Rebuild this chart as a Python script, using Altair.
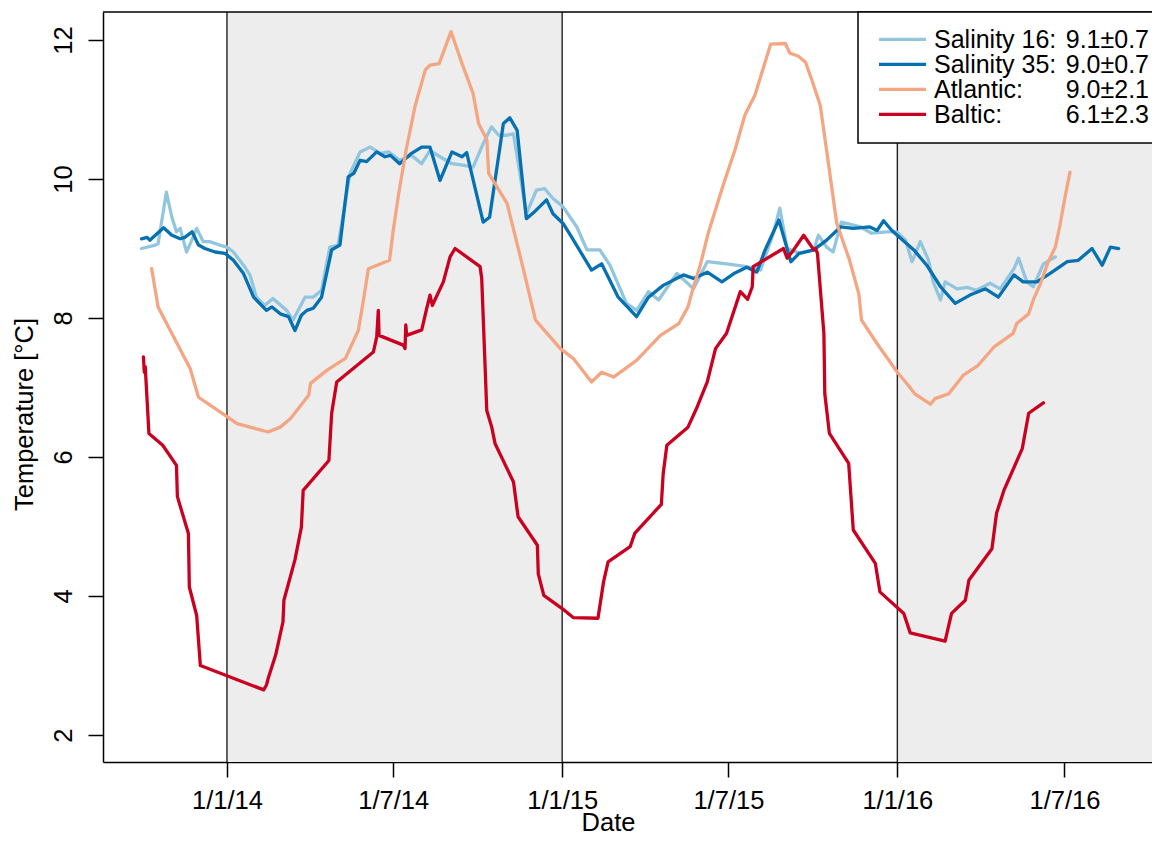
import altair as alt
import pandas as pd

BASE = pd.Timestamp("2014-01-01")

# ---- data: day offsets from 1 Jan 2014, temperatures in °C ----
s16_day = [-93, -78, -75, -66, -60, -55, -51, -44, -40, -33,
           -26, -19, -8, 0, 7, 18, 25, 32, 41, 50,
           65, 72, 85, 94, 103, 112, 121, 134, 145, 156,
           167, 176, 188, 201, 212, 221, 232, 245, 257, 268,
           279, 288, 296, 305, 312, 326, 337, 346, 355, 366,
           381, 392, 406, 417, 435, 446, 459, 470, 490, 508,
           523, 544, 566, 581, 595, 602, 610, 624, 639, 644,
           653, 660, 669, 690, 702, 719, 729, 739, 746, 755,
           764, 769, 777, 782, 795, 806, 816, 831, 842, 857,
           862, 871, 878, 889, 902]
s16_temp = [9.00, 9.05, 9.07, 9.81, 9.45, 9.24, 9.29, 8.95, 9.07, 9.29,
            9.10, 9.10, 9.05, 9.02, 8.95, 8.76, 8.62, 8.30, 8.18, 8.28,
            8.11, 7.97, 8.30, 8.30, 8.40, 9.02, 9.05, 10.08, 10.39, 10.46,
            10.37, 10.39, 10.27, 10.34, 10.22, 10.41, 10.32, 10.22, 10.20, 10.17,
            10.51, 10.75, 10.63, 10.63, 10.65, 9.50, 9.84, 9.86, 9.72, 9.60,
            9.31, 8.98, 8.98, 8.76, 8.21, 8.11, 8.38, 8.26, 8.64, 8.42,
            8.81, 8.78, 8.74, 8.69, 9.22, 9.58, 9.00, 8.93, 8.98, 9.19,
            9.02, 8.95, 9.38, 9.31, 9.22, 9.24, 9.24, 9.12, 8.81, 9.10,
            8.83, 8.52, 8.26, 8.52, 8.42, 8.44, 8.40, 8.50, 8.42, 8.71,
            8.86, 8.52, 8.45, 8.78, 8.88]

s35_day = [-93, -87, -84, -78, -69, -60, -51, -46, -38, -31,
           -24, -13, -2, 7, 18, 29, 43, 49, 58, 67,
           74, 81, 87, 94, 103, 114, 123, 132, 138, 145,
           152, 163, 172, 178, 188, 201, 212, 221, 232, 245,
           256, 261, 279, 286, 301, 308, 316, 326, 335, 348,
           355, 366, 375, 397, 408, 426, 446, 459, 475, 497,
           508, 523, 539, 552, 566, 577, 586, 601, 614, 623,
           639, 653, 668, 682, 700, 708, 715, 724, 748, 762,
           777, 793, 809, 826, 840, 857, 867, 882, 896, 915,
           927, 942, 953, 962, 971]
s35_temp = [9.14, 9.16, 9.12, 9.19, 9.30, 9.19, 9.14, 9.16, 9.24, 9.05,
            9.00, 8.95, 8.93, 8.83, 8.64, 8.30, 8.11, 8.16, 8.06, 8.02,
            7.82, 8.04, 8.11, 8.14, 8.30, 8.98, 9.05, 10.03, 10.08, 10.27,
            10.25, 10.39, 10.32, 10.34, 10.22, 10.37, 10.46, 10.46, 9.98, 10.39,
            10.32, 10.38, 9.38, 9.45, 10.80, 10.88, 10.70, 9.43, 9.53, 9.70,
            9.50, 9.36, 9.17, 8.69, 8.78, 8.30, 8.02, 8.30, 8.47, 8.62,
            8.57, 8.66, 8.52, 8.64, 8.73, 8.66, 8.98, 9.41, 8.81, 8.93,
            8.98, 9.12, 9.31, 9.29, 9.31, 9.26, 9.40, 9.26, 8.98, 8.76,
            8.45, 8.21, 8.33, 8.42, 8.30, 8.62, 8.52, 8.52, 8.64, 8.81,
            8.83, 9.00, 8.76, 9.02, 9.00]

atl_day = [-82, -75, -40, -31, 0, 11, 45, 58, 69, 89,
           91, 109, 129, 143, 148, 154, 177, 181, 187, 195,
           205, 216, 221, 231, 244, 256, 268, 274, 283, 285,
           305, 323, 336, 363, 377, 397, 408, 421, 446, 472,
           492, 502, 508, 515, 524, 541, 553, 564, 575, 592,
           608, 613, 622, 630, 637, 646, 653, 664, 678, 688,
           691, 708, 730, 742, 749, 766, 771, 786, 802, 818,
           835, 856, 860, 873, 878, 886, 894, 902, 907, 913,
           918]
atl_temp = [8.71, 8.16, 7.27, 6.86, 6.58, 6.48, 6.36, 6.43, 6.55, 6.89,
            7.06, 7.25, 7.42, 7.82, 8.21, 8.71, 8.83, 9.26, 9.79, 10.41,
            11.06, 11.57, 11.64, 11.66, 12.12, 11.66, 11.23, 10.80, 10.56, 10.08,
            9.65, 8.69, 7.97, 7.56, 7.42, 7.08, 7.22, 7.15, 7.39, 7.75,
            7.92, 8.16, 8.45, 8.74, 9.22, 9.94, 10.41, 10.92, 11.21, 11.94,
            11.95, 11.81, 11.77, 11.68, 11.42, 11.06, 10.41, 9.36, 8.83, 8.35,
            7.97, 7.63, 7.22, 7.03, 6.91, 6.76, 6.84, 6.91, 7.18, 7.32,
            7.58, 7.78, 7.92, 8.06, 8.26, 8.50, 8.80, 9.02, 9.33, 9.77,
            10.10]

bal_day = [-91, -90, -89, -85, -70, -55, -54, -42, -41, -33,
           -29, 40, 43, 45, 53, 61, 62, 74, 81, 83,
           111, 114, 119.5, 159.4, 163.1, 164.8, 165.6, 192, 193.9, 194.7,
           195.7, 212.1, 217.5, 221.1, 223.6, 235.6, 242.9, 248.4, 275.6, 277.4,
           282.9, 288.3, 292, 312, 317, 338, 339, 345, 365, 377,
           404, 410, 415, 439, 444, 473, 475, 479, 502, 512,
           523, 532, 544, 559, 567, 572, 573, 606, 610, 617,
           628, 639, 641, 643, 650, 651, 656, 677, 682, 706,
           711, 737, 744, 782, 789, 804, 808, 833, 838, 846,
           866, 873, 889]
bal_temp = [7.44, 7.22, 7.30, 6.34, 6.17, 5.88, 5.43, 4.90, 4.13, 3.72,
            3.00, 2.65, 2.72, 2.82, 3.15, 3.63, 3.94, 4.52, 4.99, 5.52,
            5.95, 6.63, 7.08, 7.51, 7.73, 8.11, 7.75, 7.61, 7.56, 7.90,
            7.75, 7.83, 8.14, 8.33, 8.18, 8.52, 8.88, 9.00, 8.74, 8.57,
            6.67, 6.43, 6.19, 5.64, 5.14, 4.73, 4.32, 4.01, 3.82, 3.69,
            3.68, 4.20, 4.49, 4.71, 4.90, 5.32, 5.76, 6.17, 6.43, 6.72,
            7.08, 7.56, 7.78, 8.38, 8.27, 8.45, 8.74, 9.00, 8.86, 8.98,
            9.19, 8.98, 9.00, 8.93, 7.78, 6.91, 6.34, 5.91, 4.95, 4.47,
            4.06, 3.75, 3.47, 3.35, 3.75, 3.94, 4.23, 4.68, 5.19, 5.52,
            6.12, 6.63, 6.78]

series_names = ["Salinity 16", "Salinity 35", "Atlantic", "Baltic"]
series_colors = ["#92C5DE", "#0571B0", "#F4A582", "#CA0020"]
legend_names = ["Salinity 16:", "Salinity 35:", "Atlantic:", "Baltic:"]
legend_stats = ["9.1±0.7", "9.0±0.7", "9.0±2.1", "6.1±2.3"]

x_start = alt.DateTime(year=2013, month=8, date=19)
x_end = alt.DateTime(year=2016, month=10, date=4, hours=7)
shade_start = ["2014-01-01T00:00", "2016-01-01T00:00"]
shade_end = ["2015-01-01T00:00", "2016-10-04T07:00"]
year_lines = ["2014-01-01", "2015-01-01", "2016-01-01"]

FONT = "Liberation Sans"
FS = 25.5
W, H = 1049, 750

x_scale = alt.Scale(domain=[x_start, x_end])
y_scale = alt.Scale(domain=[1.612, 12.403], nice=False, zero=False)

x_axis = alt.Axis(
    values=[alt.DateTime(year=y, month=m, date=1) for y, m in
            [(2014, 1), (2014, 7), (2015, 1), (2015, 7), (2016, 1), (2016, 7)]],
    format="%-d/%-m/%y", title="Date", labelPadding=31, labelBaseline="alphabetic",
    labelFlush=False, labelOverlap=False,
    titleX=505, titleY=68, titleBaseline="alphabetic", titleAlign="center",
)
y_axis = alt.Axis(
    values=[2, 4, 6, 8, 10, 12], labelAngle=270, labelAlign="center",
    labelBaseline="alphabetic", labelPadding=17,
    title="Temperature [°C]", titleAngle=270, titleX=-71, titleY=402,
    titleAlign="center", titleBaseline="alphabetic",
)


def frame(days, temps):
    return pd.DataFrame({
        "date": BASE + pd.to_timedelta(days, unit="D"),
        "temp": temps,
        "idx": range(len(days)),
    })


shade_df = pd.DataFrame({"start": pd.to_datetime(shade_start, format="ISO8601"),
                         "end": pd.to_datetime(shade_end, format="ISO8601")})
shade = alt.Chart(shade_df).mark_rect(color="#EDEDED").encode(
    x=alt.X("start:T", scale=x_scale, axis=x_axis), x2="end:T")

rules = alt.Chart(pd.DataFrame({"d": pd.to_datetime(year_lines)})).mark_rule(
    color="#222222", strokeWidth=1.4).encode(x="d:T")

layers = [shade, rules]
for name, color, days, temps in zip(series_names, series_colors,
                                    [s16_day, s35_day, atl_day, bal_day],
                                    [s16_temp, s35_temp, atl_temp, bal_temp]):
    layers.append(
        alt.Chart(frame(days, temps)).mark_line(
            color=color, strokeWidth=3.3, strokeJoin="round", strokeCap="round").encode(
            x=alt.X("date:T", scale=x_scale, axis=x_axis),
            y=alt.Y("temp:Q", scale=y_scale, axis=y_axis),
            order="idx:Q")
    )

one = pd.DataFrame({"a": [0]})
top_border = alt.Chart(one).mark_rule(color="black", strokeWidth=1.5).encode(
    x=alt.value(0), x2=alt.value(W), y=alt.value(0))
legend_box = alt.Chart(one).mark_rect(fill="white", stroke="black", strokeWidth=1.5).encode(
    x=alt.value(755), x2=alt.value(1065), y=alt.value(0), y2=alt.value(131))
layers += [top_border, legend_box]
for i, color in enumerate(series_colors):
    layers.append(alt.Chart(one).mark_rule(color=color, strokeWidth=3.3).encode(
        x=alt.value(776), x2=alt.value(823), y=alt.value(27.3 + 25 * i)))
layers.append(alt.Chart(one).mark_text(
    text=legend_names, align="left", baseline="alphabetic", font=FONT, fontSize=25,
    lineHeight=25, color="black").encode(x=alt.value(831), y=alt.value(36.3)))
layers.append(alt.Chart(one).mark_text(
    text=legend_stats, align="right", baseline="alphabetic", font=FONT, fontSize=25,
    lineHeight=25, color="black").encode(x=alt.value(1046), y=alt.value(36.3)))

chart = alt.layer(*layers).properties(
    width=W, height=H,
    autosize=alt.AutoSizeParams(type="none"),
    padding={"left": 95, "top": 4, "right": 0, "bottom": 74},
).configure_view(stroke=None).configure_axis(
    grid=False, domainColor="black", domainWidth=1.5, tickColor="black", tickWidth=1.5,
    tickSize=15, labelFont=FONT, labelFontSize=FS, labelColor="black",
    titleFont=FONT, titleFontSize=FS, titleFontWeight="normal", titleColor="black",
)

chart.save("out.html", embed_options={"renderer": "svg", "actions": False})
